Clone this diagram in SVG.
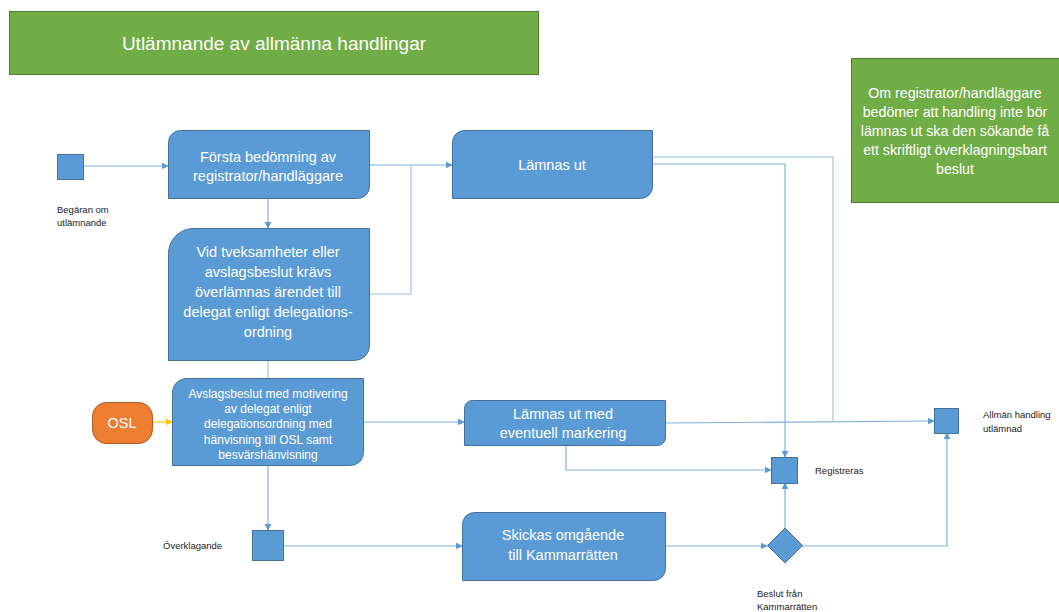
<svg xmlns="http://www.w3.org/2000/svg" width="1059" height="612" viewBox="0 0 1059 612">
<defs>
<style>
.box{fill:#5b9bd5;stroke:#41719c;stroke-width:1}
.green{fill:#70ad47;stroke:#507e32;stroke-width:1}
.wt{fill:#ffffff;font-family:"Liberation Sans",Arial,sans-serif;text-anchor:middle}
.lbl{fill:#222222;font-family:"Liberation Sans",Arial,sans-serif;font-size:9.5px}
.ln{fill:none;stroke:#9dc3e6;stroke-width:1.2}
.la{fill:none;stroke:#7fb1e0;stroke-width:1.2;marker-end:url(#arr)}
</style>
<marker id="arr" viewBox="0 0 10 10" refX="9" refY="5" markerWidth="7" markerHeight="7" markerUnits="userSpaceOnUse" orient="auto">
<path d="M0,0 L10,5 L0,10 Z" fill="#5b9bd5"/>
</marker>
<marker id="arrY" viewBox="0 0 10 10" refX="9" refY="5" markerWidth="7" markerHeight="7" markerUnits="userSpaceOnUse" orient="auto">
<path d="M0,0 L10,5 L0,10 Z" fill="#ffc000"/>
</marker>
</defs>
<rect width="1059" height="612" fill="#ffffff"/>

<g id="connectors">
<path class="la" d="M84,166 H168"/>
<path class="la" d="M369,165 H452"/>
<path class="ln" d="M369,294 H411 V165"/>
<path class="la" d="M268,198 V228"/>
<path class="ln" d="M268,360 V378"/>
<path d="M152,422 H172" fill="none" stroke="#ffc000" stroke-width="1.2" marker-end="url(#arrY)"/>
<path class="la" d="M363,422 H464"/>
<path class="la" d="M268,465 V530"/>
<path class="la" d="M283,546 H462"/>
<path class="la" d="M665,546 H767"/>
<path class="la" d="M785,528 V483"/>
<path class="la" d="M802,546 H947 V433"/>
<path class="la" d="M566,445 V470 H771"/>
<path class="la" d="M665,423 L934,421"/>
<path class="ln" d="M652,157 H833 V422"/>
<path class="la" d="M652,164 H785 V457"/>
</g>

<g id="title">
<rect class="green" x="9.5" y="11.5" width="529" height="63"/>
<text class="wt" x="274" y="50" font-size="19">Utlämnande av allmänna handlingar</text>
</g>

<g id="note">
<rect class="green" x="851.5" y="58.5" width="208" height="144"/>
<text class="wt" font-size="14.2"><tspan x="955" y="98">Om registrator/handläggare</tspan><tspan x="955" y="117">bedömer att handling inte bör</tspan><tspan x="955" y="136">lämnas ut ska den sökande få</tspan><tspan x="955" y="155">ett skriftligt överklagningsbart</tspan><tspan x="955" y="174">beslut</tspan></text>
</g>

<g id="begaran">
<rect class="box" x="57.5" y="154.5" width="26" height="25"/>
<text class="lbl"><tspan x="57" y="213">Begäran om</tspan><tspan x="57" y="226">utlämnande</tspan></text>
</g>

<g id="forsta">
<path class="box" d="M180.5,130.5 H369.5 V186.5 A12,12 0 0 1 357.5,198.5 H168.5 V142.5 A12,12 0 0 1 180.5,130.5 Z"/>
<text class="wt" font-size="14.5"><tspan x="268" y="162">Första bedömning av</tspan><tspan x="268" y="181">registrator/handläggare</tspan></text>
</g>

<g id="vid">
<path class="box" d="M193.5,228.5 H369.5 V345.5 A15,15 0 0 1 354.5,360.5 H168.5 V253.5 A25,25 0 0 1 193.5,228.5 Z"/>
<text class="wt" font-size="14.5"><tspan x="268" y="257">Vid tveksamheter eller</tspan><tspan x="268" y="277">avslagsbeslut krävs</tspan><tspan x="268" y="297">överlämnas ärendet till</tspan><tspan x="268" y="317">delegat enligt delegations-</tspan><tspan x="268" y="337">ordning</tspan></text>
</g>

<g id="avslag">
<path class="box" d="M186.5,378.5 H363.5 V452.5 A13,13 0 0 1 350.5,465.5 H172.5 V392.5 A14,14 0 0 1 186.5,378.5 Z"/>
<text class="wt" font-size="12"><tspan x="268" y="397.5">Avslagsbeslut med motivering</tspan><tspan x="268" y="412.5">av delegat enligt</tspan><tspan x="268" y="428">delegationsordning med</tspan><tspan x="268" y="443.5">hänvisning till OSL samt</tspan><tspan x="268" y="458.5">besvärshänvisning</tspan></text>
</g>

<g id="osl">
<rect x="92.5" y="402.5" width="60" height="41" rx="14" ry="14" fill="#ed7d31" stroke="#ae5a21" stroke-width="1"/>
<text class="wt" x="122" y="428" font-size="14.5">OSL</text>
</g>

<g id="lamnas">
<path class="box" d="M464.5,130.5 H652.5 V186.5 A12,12 0 0 1 640.5,198.5 H452.5 V142.5 A12,12 0 0 1 464.5,130.5 Z"/>
<text class="wt" x="552" y="170" font-size="14.5">Lämnas ut</text>
</g>

<g id="lamnasmed">
<path class="box" d="M472.5,400.5 H665.5 V437.5 A8,8 0 0 1 657.5,445.5 H464.5 V408.5 A8,8 0 0 1 472.5,400.5 Z"/>
<text class="wt" font-size="14.5"><tspan x="563" y="419">Lämnas ut med</tspan><tspan x="563" y="438">eventuell markering</tspan></text>
</g>

<g id="skickas">
<path class="box" d="M474.5,512.5 H665.5 V568.5 A12,12 0 0 1 653.5,580.5 H462.5 V524.5 A12,12 0 0 1 474.5,512.5 Z"/>
<text class="wt" font-size="14.5"><tspan x="563" y="540">Skickas omgående</tspan><tspan x="563" y="560">till Kammarrätten</tspan></text>
</g>

<g id="overklagande">
<rect class="box" x="252.5" y="530.5" width="31" height="30"/>
<text class="lbl" x="163" y="549">Överklagande</text>
</g>

<g id="registreras">
<rect class="box" x="771.5" y="457.5" width="26" height="26"/>
<text class="lbl" x="815" y="474">Registreras</text>
</g>

<g id="allman">
<rect class="box" x="934.5" y="408.5" width="24" height="25"/>
<text class="lbl"><tspan x="983" y="418">Allmän handling</tspan><tspan x="983" y="432">utlämnad</tspan></text>
</g>

<g id="beslut">
<path class="box" d="M785,528 L802.5,545.5 L785,563 L767.5,545.5 Z"/>
<text class="lbl"><tspan x="757" y="597">Beslut från</tspan><tspan x="757" y="610">Kammarrätten</tspan></text>
</g>
</svg>
